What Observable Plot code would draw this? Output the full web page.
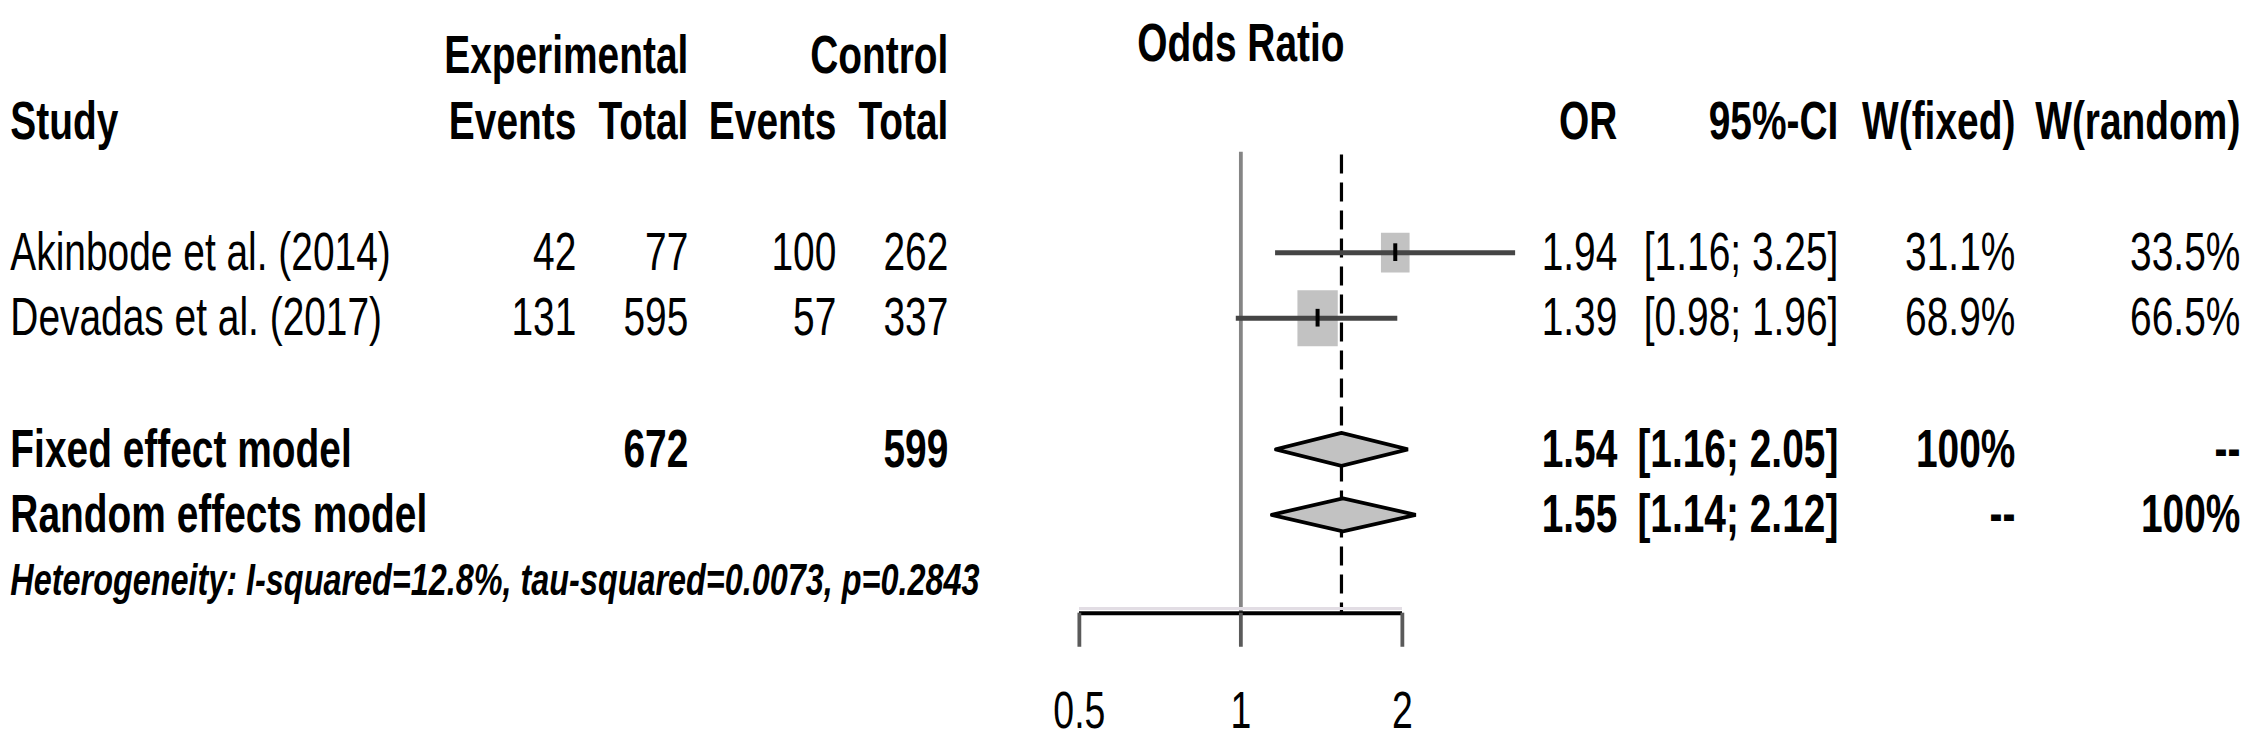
<!DOCTYPE html>
<html>
<head>
<meta charset="utf-8">
<script src="https://cdn.jsdelivr.net/npm/d3@7"></script>
<script src="https://cdn.jsdelivr.net/npm/@observablehq/plot@0.6"></script>
<style>
  html, body { margin: 0; padding: 0; background: #fff; }
  #chart { width: 2252px; height: 756px; overflow: hidden; }
</style>
</head>
<body>
<div id="chart"></div>
<script>
// ---------------- data ----------------
const studies      = ["Akinbode et al. (2014)", "Devadas et al. (2017)"];
const expEvents    = [42, 131];
const expTotal     = [77, 595];
const ctrlEvents   = [100, 57];
const ctrlTotal    = [262, 337];
const oddsRatio    = [1.94, 1.39];
const ciLower      = [1.16, 0.98];
const ciUpper      = [3.25, 1.96];
const weightFixed  = [31.1, 68.9];
const weightRandom = [33.5, 66.5];

const models        = ["Fixed effect model", "Random effects model"];
const modelOR       = [1.54, 1.55];
const modelLower    = [1.16, 1.14];
const modelUpper    = [2.05, 2.12];
const modelExpTotal = ["672", ""];
const modelCtrlTotal= ["599", ""];
const modelWFixed   = ["100%", "--"];
const modelWRandom  = ["--", "100%"];

const heterogeneity = "Heterogeneity: I-squared=12.8%, tau-squared=0.0073, p=0.2843";
const xTicks      = [0.5, 1, 2];
const xTickLabels = ["0.5", "1", "2"];
const nullEffect  = 1;

// ---------------- layout ----------------
const W = 2252, H = 756;
const K = 0.72;              // horizontal squeeze of the reference picture
const LW = W / K;            // logical width
const px = v => v / K;       // reference px -> logical px (horizontal)

const COLS = {
  study: {x: 10,   anchor: "start"},
  expE:  {x: 576,  anchor: "end"},
  expT:  {x: 688,  anchor: "end"},
  ctrlE: {x: 836,  anchor: "end"},
  ctrlT: {x: 948,  anchor: "end"},
  or:    {x: 1617, anchor: "end"},
  ci:    {x: 1838, anchor: "end"},
  wf:    {x: 2015, anchor: "end"},
  wr:    {x: 2240, anchor: "end"}
};

const ROW_GROUP = 0, ROW_HEAD = 1, ROW_LINE_TOP = 1.47;
const studyRows = studies.map((_, i) => 3 + i);
const modelRows = models.map((_, i) => 6 + i);
const ROW_HET = 8, ROW_AXIS = 8.5, ROW_TICK_END = 9.02, ROW_TICKLAB = 10;

const fmt2 = v => v.toFixed(2);
const ci = (l, u) => `[${fmt2(l)}; ${fmt2(u)}]`;

// ---------------- table cells ----------------
const cells = [];
const add = (row, col, text, weight = "normal", style = "normal", size = 54) =>
  cells.push({row, col, text: String(text), weight, style, size});

add(ROW_GROUP, "expT", "Experimental", "bold");
add(ROW_GROUP, "ctrlT", "Control", "bold");
[["study","Study"],["expE","Events"],["expT","Total"],["ctrlE","Events"],["ctrlT","Total"],
 ["or","OR"],["ci","95%-CI"],["wf","W(fixed)"],["wr","W(random)"]]
  .forEach(([c, t]) => add(ROW_HEAD, c, t, "bold"));

studies.forEach((s, i) => {
  const r = studyRows[i];
  add(r, "study", s);
  add(r, "expE", expEvents[i]);
  add(r, "expT", expTotal[i]);
  add(r, "ctrlE", ctrlEvents[i]);
  add(r, "ctrlT", ctrlTotal[i]);
  add(r, "or", fmt2(oddsRatio[i]));
  add(r, "ci", ci(ciLower[i], ciUpper[i]));
  add(r, "wf", weightFixed[i].toFixed(1) + "%");
  add(r, "wr", weightRandom[i].toFixed(1) + "%");
});
models.forEach((m, i) => {
  const r = modelRows[i];
  add(r, "study", m, "bold");
  if (modelExpTotal[i]) add(r, "expT", modelExpTotal[i], "bold");
  if (modelCtrlTotal[i]) add(r, "ctrlT", modelCtrlTotal[i], "bold");
  add(r, "or", fmt2(modelOR[i]), "bold");
  add(r, "ci", ci(modelLower[i], modelUpper[i]), "bold");
  add(r, "wf", modelWFixed[i], "bold");
  add(r, "wr", modelWRandom[i], "bold");
});
add(ROW_HET, "study", heterogeneity, "bold", "italic", 45);

const groups = d3.groups(cells, d => `${d.col}|${d.weight}|${d.style}|${d.size}`);
const textMarks = groups.map(([key, data]) => {
  const d0 = data[0];
  const c = COLS[d0.col];
  return Plot.text(data, {
    y: "row", text: "text", frameAnchor: "left",
    dx: px(c.x), textAnchor: c.anchor,
    fontWeight: d0.weight, fontStyle: d0.style, fontSize: d0.size,
    fill: "black"
  });
});

// ---------------- forest data ----------------
const studyData = studies.map((s, i) => ({
  study: s, row: studyRows[i], or: oddsRatio[i], lower: ciLower[i], upper: ciUpper[i], w: weightRandom[i]
}));
const DH = 0.252;
const diamondPts = models.flatMap((m, i) => {
  const r = modelRows[i];
  return [
    {m, x: modelLower[i], y: r},
    {m, x: modelOR[i],    y: r - DH},
    {m, x: modelUpper[i], y: r},
    {m, x: modelOR[i],    y: r + DH},
    {m, x: modelLower[i], y: r}
  ];
});

const chart = Plot.plot({
  width: LW,
  height: H,
  margin: 0,
  style: {fontFamily: "'Liberation Sans', Arial, Helvetica, sans-serif", fontSize: "54px", background: "white", color: "black"},
  x: {type: "log", domain: [xTicks[0], xTicks[xTicks.length - 1]], range: [px(1079), px(1402)], axis: null},
  y: {type: "linear", domain: [0, 10], range: [55.5, 711], axis: null},
  r: {type: "sqrt", domain: [0, d3.max(weightRandom)], range: [0, 31.6]},
  marks: [
    // reference line at no effect
    Plot.ruleX([nullEffect], {x: d => d, y1: () => ROW_LINE_TOP, y2: () => ROW_AXIS, stroke: "#858585", strokeWidth: px(3.8)}),
    // fixed-effect estimate (dashed)
    Plot.ruleX([modelOR[0]], {x: d => d, y1: () => ROW_LINE_TOP + 0.04, y2: () => ROW_AXIS, stroke: "black", strokeWidth: px(3.2), strokeDasharray: "19,9"}),
    // squares
    Plot.dot(studyData, {x: "or", y: "row", r: "w", symbol: "square", fill: "#c2c2c2", stroke: null}),
    // confidence intervals
    Plot.ruleY(studyData, {y: "row", x1: "lower", x2: "upper", stroke: "#454545", strokeWidth: 5}),
    // point estimate tick
    Plot.ruleX(studyData, {x: "or", y1: d => d.row - 0.135, y2: d => d.row + 0.135, stroke: "black", strokeWidth: px(4)}),
    // diamonds
    Plot.line(diamondPts, {x: "x", y: "y", z: "m", fill: "#c2c2c2", stroke: "black", strokeWidth: 3.8, strokeLinejoin: "miter"}),
    // axis
    Plot.ruleY([ROW_AXIS - 0.07], {y: d => d, x1: () => xTicks[0], x2: () => xTicks[xTicks.length - 1], stroke: "#e2dde4", strokeWidth: 3}),
    Plot.ruleY([ROW_AXIS], {y: d => d, x1: () => xTicks[0], x2: () => xTicks[xTicks.length - 1], stroke: "black", strokeWidth: 4}),
    Plot.ruleX(xTicks, {x: d => d, y1: () => ROW_AXIS, y2: () => ROW_TICK_END, stroke: "#5a5a5a", strokeWidth: px(3.8)}),
    Plot.text(xTicks, {x: d => d, y: () => ROW_TICKLAB, text: (d, i) => xTickLabels[i], fontSize: 52, fill: "black"}),
    // title over forest
    Plot.text(["Odds Ratio"], {x: () => nullEffect, y: () => ROW_GROUP, dy: -12, text: d => d, fontWeight: "bold", fontSize: 54, fill: "black"}),
    ...textMarks
  ]
});

chart.setAttribute("width", W);
chart.setAttribute("height", H);
chart.setAttribute("preserveAspectRatio", "none");
chart.style.width = W + "px";
chart.style.height = H + "px";
chart.style.maxWidth = "none";
document.getElementById("chart").appendChild(chart);
</script>
</body>
</html>
